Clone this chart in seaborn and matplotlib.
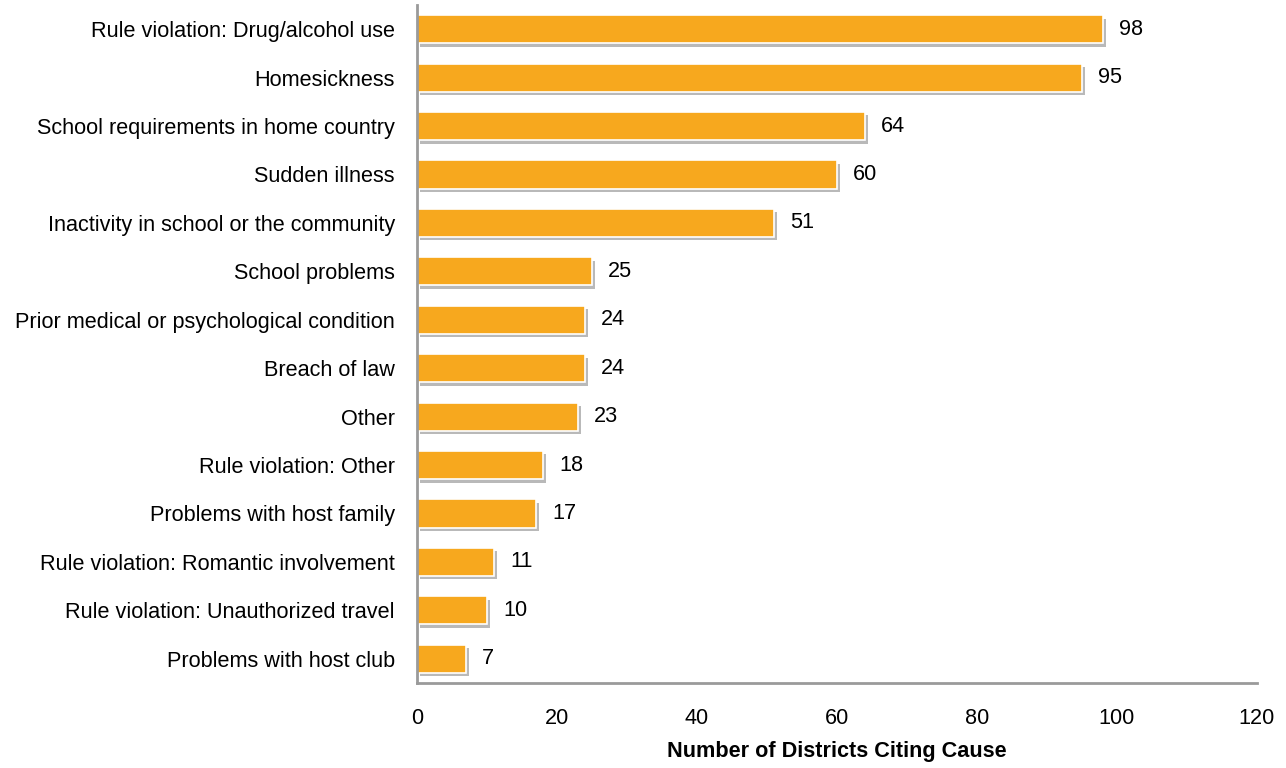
import matplotlib
matplotlib.use("Agg")
import matplotlib.pyplot as plt
import matplotlib.patheffects as pe
from matplotlib import font_manager
import seaborn as sns
import pandas as pd

causes = [
    "Rule violation: Drug/alcohol use",
    "Homesickness",
    "School requirements in home country",
    "Sudden illness",
    "Inactivity in school or the community",
    "School problems",
    "Prior medical or psychological condition",
    "Breach of law",
    "Other",
    "Rule violation: Other",
    "Problems with host family",
    "Rule violation: Romantic involvement",
    "Rule violation: Unauthorized travel",
    "Problems with host club",
]
counts = [98, 95, 64, 60, 51, 25, 24, 24, 23, 18, 17, 11, 10, 7]
x_ticks = [0, 20, 40, 60, 80, 100, 120]
x_label = "Number of Districts Citing Cause"

df = pd.DataFrame({"cause": causes, "count": counts})

sns.set_theme(style="white")
names = {f.name for f in font_manager.fontManager.ttflist}
fam = "Liberation Sans Narrow" if "Liberation Sans Narrow" in names else "Liberation Sans"
plt.rcParams["font.family"] = [fam, "DejaVu Sans"]

FS = 15.6

fig = plt.figure(figsize=(12.86, 7.68), dpi=100)
ax = fig.add_axes([417/1286, 1-683/768, (1257-417)/1286, (683-5)/768])

sns.barplot(data=df, y="cause", x="count", orient="h", color="#F7A81E",
            saturation=1, width=0.58, edgecolor="white", linewidth=1.2, ax=ax)

for p in ax.patches:
    p.set_path_effects([pe.SimplePatchShadow(offset=(2.5, -2.5), shadow_rgbFace="#808080", alpha=0.55),
                        pe.Normal()])

for p, v in zip(ax.patches, counts):
    ax.text(p.get_x() + p.get_width() + 2.3, p.get_y() + p.get_height()/2, str(v),
            va="center", ha="left", fontsize=FS, color="black")

ax.set_xlim(0, 120)
ax.set_ylim(13.5, -0.5)
ax.set_xticks(x_ticks)
ax.set_xticklabels([str(t) for t in x_ticks], fontsize=FS)
ax.tick_params(axis="x", pad=18, length=0, colors="black")
ax.tick_params(axis="y", pad=16, length=0, labelsize=FS, colors="black")
ax.set_ylabel("")
ax.set_xlabel(x_label, fontsize=FS, fontweight="bold", labelpad=9, color="black")

for s in ["top", "right"]:
    ax.spines[s].set_visible(False)
for s in ["left", "bottom"]:
    ax.spines[s].set_color("#9a9a9a")
    ax.spines[s].set_linewidth(2)

fig.savefig("out.png", dpi=100)
